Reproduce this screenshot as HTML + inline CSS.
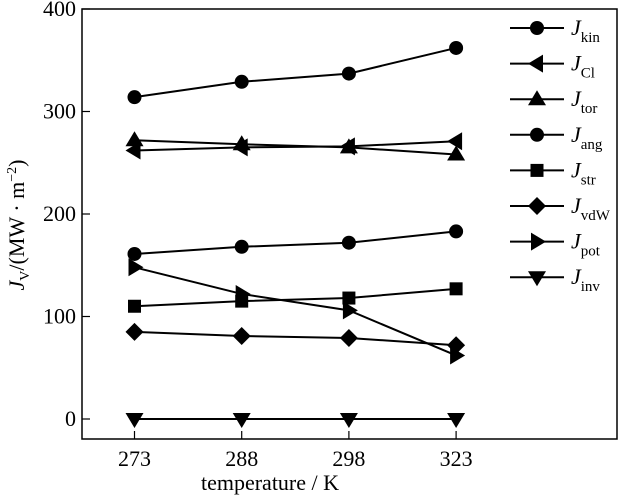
<!DOCTYPE html>
<html><head><meta charset="utf-8"><style>
body{margin:0;background:#fff}
svg{display:block;font-family:"Liberation Serif",serif}
</style></head><body>
<svg id="chart" width="618" height="495" xmlns="http://www.w3.org/2000/svg">
<rect x="82" y="9" width="535" height="430" fill="none" stroke="#000" stroke-width="1.5"/>
<g id="axes"></g><g id="series"></g><g id="legend"></g>
<text x="270" y="490" font-size="22" text-anchor="middle">temperature / K</text>
<text transform="translate(24,225) rotate(-90)" font-size="22" text-anchor="middle"><tspan font-style="italic">J</tspan><tspan font-size="14" dy="5">V</tspan><tspan dy="-5">/(MW · m</tspan><tspan font-size="14" dy="-8">−2</tspan><tspan dy="8">)</tspan></text>
</svg>
<script>
const categories=["273","288","298","323"];
const yTicks=[0,100,200,300,400];
const seriesNames=["kin","Cl","tor","ang","str","vdW","pot","inv"];
const markers=["hex","left","up","circle","square","diamond","right","down"];
const kin=[314,329,337,362];
const cl=[262,265,266,271];
const tor=[272,268,265,258];
const ang=[161,168,172,183];
const str=[110,115,118,127];
const vdw=[85,81,79,72];
const pot=[148,122,106,62];
const inv=[0,0,0,0];
const allSeries=[kin,cl,tor,ang,str,vdw,pot,inv];
const NS="http://www.w3.org/2000/svg";
const x=i=>134.5+i*107.2;
const y=v=>419-v*1.025;
function mk(tag,attrs,parent){const e=document.createElementNS(NS,tag);for(const k in attrs)e.setAttribute(k,attrs[k]);parent.appendChild(e);return e;}
function marker(type,cx,cy,parent){
 const r=7;let e;
 if(type==="circle"||type==="hex"){e=mk("circle",{cx:cx,cy:cy,r:r},parent);}
 else if(type==="square"){e=mk("rect",{x:cx-6.5,y:cy-6.5,width:13,height:13},parent);}
 else if(type==="diamond"){e=mk("polygon",{points:`${cx},${cy-9} ${cx+9},${cy} ${cx},${cy+9} ${cx-9},${cy}`},parent);}
 else if(type==="up"){e=mk("polygon",{points:`${cx},${cy-9} ${cx+9},${cy+6} ${cx-9},${cy+6}`},parent);}
 else if(type==="down"){e=mk("polygon",{points:`${cx},${cy+9} ${cx+9},${cy-6} ${cx-9},${cy-6}`},parent);}
 else if(type==="left"){e=mk("polygon",{points:`${cx-9},${cy} ${cx+6},${cy-9} ${cx+6},${cy+9}`},parent);}
 else {e=mk("polygon",{points:`${cx+9},${cy} ${cx-6},${cy-9} ${cx-6},${cy+9}`},parent);}
 e.setAttribute("fill","#000");
 return e;
}
const axes=document.getElementById("axes");
yTicks.forEach(t=>{
 const l=mk("line",{x1:82,x2:90,y1:y(t),y2:y(t),stroke:"#000","stroke-width":1.2},axes);
 
 
 const tx=mk("text",{x:76,y:y(t)+7,"font-size":22,"text-anchor":"end"},axes);
 tx.textContent=t;
 
 
});
categories.forEach((c,i)=>{
 const l=mk("line",{x1:x(i),x2:x(i),y1:439,y2:431,stroke:"#000","stroke-width":1.2},axes);
 
 
 const tx=mk("text",{x:x(i),y:466,"font-size":22,"text-anchor":"middle"},axes);
 tx.textContent=c;
 
 
});
const sg=document.getElementById("series");
allSeries.forEach((s,k)=>{
 const g=mk("g",{},sg);
 
 
 const p=mk("polyline",{points:s.map((v,i)=>x(i)+","+y(v)).join(" "),fill:"none",stroke:"#000","stroke-width":2},g);
 
 
 s.forEach((v,i)=>{
  const m=marker(markers[k],x(i),y(v),g);
  
  
 });
});
const lg=document.getElementById("legend");
seriesNames.forEach((n,k)=>{
 const ly=28+k*35.6;
 const g=mk("g",{},lg);
 
 
 mk("line",{x1:510,x2:564,y1:ly,y2:ly,stroke:"#000","stroke-width":2},g);
 marker(markers[k],537,ly,g);
 const t=mk("text",{x:571,y:ly+7,"font-size":22},g);
 const a=mk("tspan",{"font-style":"italic"},t);a.textContent="J";
 const b=mk("tspan",{"font-size":15,dy:7},t);b.textContent=n;
});
</script>
</body></html>
